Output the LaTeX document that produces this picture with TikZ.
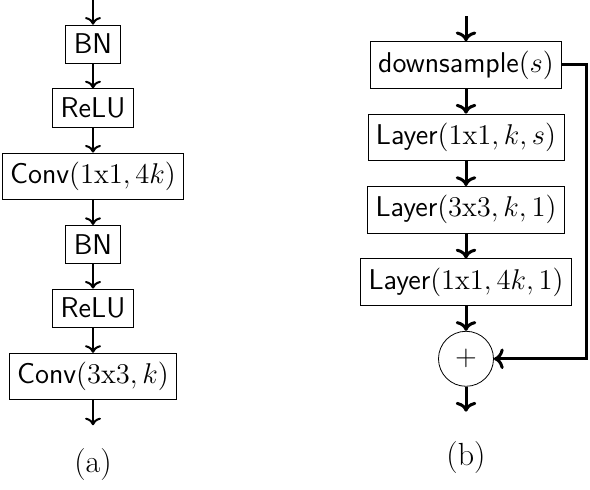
\RequirePackage{fix-cm}
\documentclass[tikz,border=0pt]{standalone}
\usetikzlibrary{positioning, arrows.meta}
\tikzset{
  >=To,
  layer/.style={draw, font=\sffamily\fontsize{14.3}{17}\selectfont, inner xsep=4pt, inner ysep=4.5pt},
  sum/.style={draw, circle, minimum size=27.5pt, inner sep=0pt, font=\fontsize{14.3}{17}\selectfont},
  connect arrow/.style={->, line width=1pt},
  connect thick/.style={->, line width=1.5pt},
  caption/.style={font=\fontsize{16}{19}\selectfont}
}

\begin{document}
\begin{tikzpicture}[x=0.5pt, y=-0.5pt, node distance=12.5pt]
  \useasboundingbox (0,0) rectangle (590,490);

  % (a) pre-activation column
  \node[layer] (bn1) at (93,44) {BN};
  \node[layer, below=of bn1] (relu1) {ReLU};
  \node[layer, below=of relu1] (conv1) {Conv$(1\mathrm{x}1, 4k)$};
  \node[layer, below=of conv1] (bn2) {BN};
  \node[layer, below=of bn2] (relu2) {ReLU};
  \node[layer, below=of relu2] (conv2) {Conv$(3\mathrm{x}3, k)$};
  \coordinate[above=of bn1] (ain);
  \coordinate[below=of conv2] (aout);

  \draw[connect arrow] (ain) -- (bn1);
  \draw[connect arrow] (bn1) -- (relu1);
  \draw[connect arrow] (relu1) -- (conv1);
  \draw[connect arrow] (conv1) -- (bn2);
  \draw[connect arrow] (bn2) -- (relu2);
  \draw[connect arrow] (relu2) -- (conv2);
  \draw[connect arrow] (conv2) -- (aout);

  % (b) bottleneck column
  \node[layer] (ds) at (466,65) {downsample$(s)$};
  \node[layer, below=of ds] (l1) {Layer$(1\mathrm{x}1, k, s)$};
  \node[layer, below=of l1] (l2) {Layer$(3\mathrm{x}3, k, 1)$};
  \node[layer, below=of l2] (l3) {Layer$(1\mathrm{x}1, 4k, 1)$};
  \node[sum, below=of l3] (add) {$+$};
  \coordinate[above=of ds] (bin);
  \coordinate[below=of add] (bout);

  \draw[connect thick] (bin) -- (ds);
  \draw[connect thick] (ds) -- (l1);
  \draw[connect thick] (l1) -- (l2);
  \draw[connect thick] (l2) -- (l3);
  \draw[connect thick] (l3) -- (add);
  \draw[connect thick] (add) -- (bout);
  % shortcut
  \draw[connect thick] (ds.east) -- ++(24,0) |- (add.east);

  % captions
  \node[caption] (capa) at (93,465) {(a)};
  \node[caption] (capb) at (466,458) {(b)};

\end{tikzpicture}
\end{document}
